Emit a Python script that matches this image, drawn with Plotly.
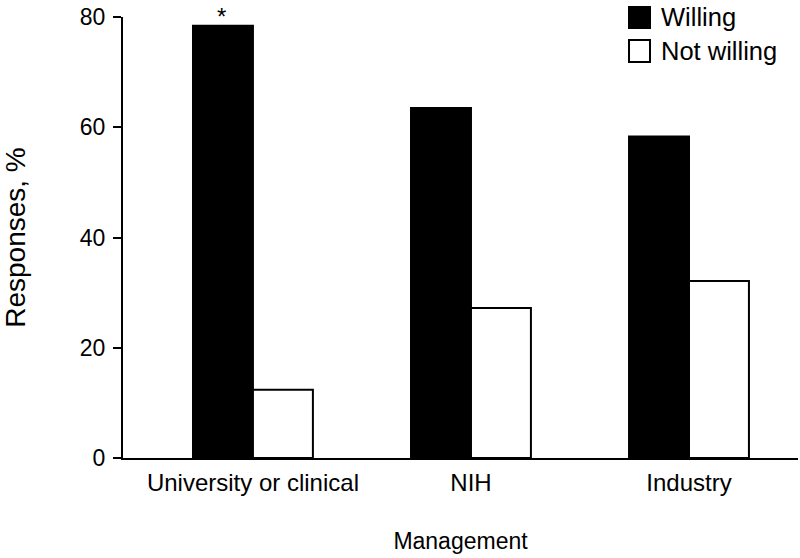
import plotly.graph_objects as go

categories = ["University or clinical", "NIH", "Industry"]
series_names = ["Willing", "Not willing"]
willing = [78.4, 63.5, 58.3]
not_willing = [12.4, 27.2, 32.1]
significant = [True, False, False]
y_ticks = [0, 20, 40, 60, 80]

FONT = "Liberation Sans, Arial, sans-serif"
fills = ["black", "white"]

fig = go.Figure()
for name, vals, fill in zip(series_names, [willing, not_willing], fills):
    fig.add_trace(go.Bar(
        x=categories, y=vals, name=name,
        marker=dict(color=fill, line=dict(color="black", width=2)),
        showlegend=False,
    ))

# significance asterisk above the Willing bar(s)
for cat, val, sig in zip(categories, willing, significant):
    if sig:
        fig.add_annotation(
            x=cat, y=val, xshift=-31, yshift=-6,
            xanchor="center", yanchor="bottom",
            text="*", showarrow=False,
            font=dict(size=24, color="black", family=FONT),
        )

# legend drawn as boxes + labels (larger swatches than plotly's legend allows)
L, W, H = 123, 675, 441
def px_x(p):
    return (p - L) / W
def px_y(p):
    return (458 - p) / H

legend_rows = [(7, 28), (40, 62)]
for (top, bot), name, fill in zip(legend_rows, series_names, fills):
    fig.add_shape(
        type="rect", xref="paper", yref="paper",
        x0=px_x(629), x1=px_x(650), y0=px_y(bot), y1=px_y(top),
        fillcolor=fill, line=dict(color="black", width=2),
    )
    fig.add_annotation(
        xref="paper", yref="paper",
        x=px_x(659), y=px_y((top + bot) / 2),
        xanchor="left", yanchor="middle",
        text=name, showarrow=False,
        font=dict(size=25.5, color="black", family=FONT),
    )

fig.update_layout(
    width=800, height=558,
    margin=dict(l=123, r=2, t=17, b=100, autoexpand=False),
    plot_bgcolor="white", paper_bgcolor="white",
    font=dict(family=FONT, size=23, color="black"),
    barmode="group", bargap=0.45, bargroupgap=0,
    showlegend=False,
    xaxis=dict(
        type="category", range=[-0.596, 2.5], automargin=False,
        showline=True, linecolor="black", linewidth=2,
        ticks="", showgrid=False,
        tickfont=dict(size=24),
        ticklabelstandoff=2,
        title=dict(text="Management", font=dict(size=23), standoff=38),
    ),
    yaxis=dict(
        range=[0, 80], tickvals=y_ticks, automargin=False,
        showline=True, linecolor="black", linewidth=2,
        ticks="outside", ticklen=8, tickwidth=2, tickcolor="black",
        showgrid=False, zeroline=False,
        tickfont=dict(size=23),
        ticklabelstandoff=3,
        title=dict(text="Responses, %", font=dict(size=28), standoff=50),
    ),
)

# remove the browser's default 8px body margin so the 800x558 figure fills the window
fig.write_html(
    "out.html",
    config={"displayModeBar": False},
    post_script="document.body.style.margin='0';document.body.style.overflow='hidden';",
)
